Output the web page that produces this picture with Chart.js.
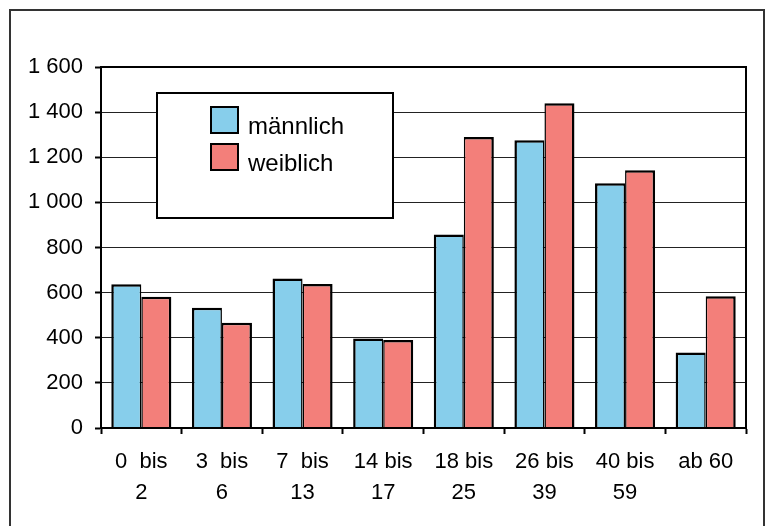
<!DOCTYPE html>
<html>
<head>
<meta charset="utf-8">
<script src="https://cdn.jsdelivr.net/npm/chart.js@4"></script>
<style>
  html, body { margin: 0; padding: 0; background: #fff; }
  #wrap { position: relative; width: 769px; height: 526px; }
</style>
</head>
<body>
<div id="wrap"><canvas id="barChart" width="769" height="526"></canvas></div>
<script>
// age groups (x labels, two lines each)
var categories = [
  ['0  bis', '2'], ['3  bis', '6'], ['7  bis', '13'], ['14 bis', '17'],
  ['18 bis', '25'], ['26 bis', '39'], ['40 bis', '59'], ['ab 60', '']
];
var seriesNames = ['männlich', 'weiblich'];
var maleValues = [637, 533, 663, 397, 858, 1275, 1085, 335];
var femaleValues = [582, 467, 638, 390, 1290, 1439, 1142, 584];
var yTicks = [0, 200, 400, 600, 800, 1000, 1200, 1400, 1600];

var colors = ['#87CEEB', '#F37F7A'];

// outer frame + plot border + legend box
var framePlugin = {
  id: 'frame',
  beforeDraw: function(chart) {
    var ctx = chart.ctx;
    ctx.save();
    ctx.fillStyle = '#fff';
    ctx.fillRect(0, 0, chart.width, chart.height);
    ctx.strokeStyle = '#333';
    ctx.lineWidth = 2;
    ctx.strokeRect(10, 10, 754, 600);
    ctx.restore();
  },
  afterDraw: function(chart) {
    var ctx = chart.ctx;
    var a = chart.chartArea;
    ctx.save();
    ctx.strokeStyle = '#000';
    ctx.lineWidth = 2;
    ctx.strokeRect(a.left, a.top, a.right - a.left, a.bottom - a.top);

    // legend box
    ctx.fillStyle = '#fff';
    ctx.fillRect(157, 93, 236, 125);
    ctx.strokeRect(157, 93, 236, 125);
    ctx.font = '24px "Liberation Sans", Arial, sans-serif';
    ctx.textBaseline = 'alphabetic';
    chart.data.datasets.forEach(function(ds, i) {
      var y = 107 + i * 37;
      ctx.fillStyle = ds.backgroundColor;
      ctx.fillRect(211, y, 27, 26);
      ctx.strokeRect(211, y, 27, 26);
      ctx.fillStyle = '#000';
      ctx.fillText(ds.label, 248, y + 27);
    });
    ctx.restore();
  }
};

var barChartCanvas = document.getElementById('barChart').getContext('2d');

new Chart(barChartCanvas, {
  type: 'bar',
  data: {
    labels: categories,
    datasets: [{
      label: seriesNames[0],
      backgroundColor: colors[0],
      borderColor: '#000',
      borderWidth: { top: 2.5, left: 2.5, right: 1.5, bottom: 0 },
      borderSkipped: false,
      data: maleValues
    }, {
      label: seriesNames[1],
      backgroundColor: colors[1],
      borderColor: '#000',
      borderWidth: { top: 2.5, left: 1.5, right: 2.5, bottom: 0 },
      borderSkipped: false,
      data: femaleValues
    }]
  },
  options: {
    responsive: false,
    animation: false,
    categoryPercentage: 0.745,
    barPercentage: 1,
    layout: { padding: { left: 0, top: 67, right: 23, bottom: 0 } },
    scales: {
      x: {
        afterFit: function(scale) { scale.height = 98; },
        grid: {
          display: true,
          drawOnChartArea: false,
          drawTicks: true,
          tickLength: 6,
          tickWidth: 2,
          tickColor: '#000',
          color: '#000'
        },
        border: { display: true, color: '#000', width: 2 },
        ticks: {
          color: '#000',
          padding: 12,
          maxRotation: 0,
          autoSkip: false,
          font: { family: '"Liberation Sans", Arial, sans-serif', size: 22, lineHeight: 1.42 }
        }
      },
      y: {
        min: 0,
        max: 1600,
        afterFit: function(scale) { scale.width = 101; },
        afterBuildTicks: function(scale) {
          scale.ticks = yTicks.map(function(v) { return { value: v }; });
        },
        grid: {
          color: '#222',
          lineWidth: 1,
          drawTicks: true,
          tickLength: 6,
          tickWidth: 2,
          tickColor: '#000'
        },
        border: { display: true, color: '#000', width: 2 },
        ticks: {
          color: '#000',
          padding: 12,
          font: { family: '"Liberation Sans", Arial, sans-serif', size: 22 },
          callback: function(value) {
            return String(value).replace(/\B(?=(\d{3})+(?!\d))/g, ' ');
          }
        }
      }
    },
    plugins: {
      legend: { display: false },
      tooltip: { enabled: false }
    }
  },
  plugins: [framePlugin]
});
</script>
</body>
</html>
